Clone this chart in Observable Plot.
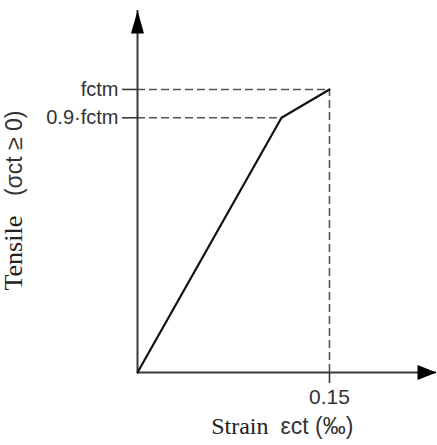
<!DOCTYPE html>
<html>
<head>
<meta charset="utf-8">
<script src="https://cdn.jsdelivr.net/npm/d3@7"></script>
<script src="https://cdn.jsdelivr.net/npm/@observablehq/plot@0.6"></script>
<style>
  html, body { margin: 0; padding: 0; background: #fff; }
</style>
</head>
<body>
<div id="chart"></div>
<script>
// Data (relative units: stress / fctm, strain in ‰)
const strain = [0, 0.1125, 0.15];
const stress = [0, 0.9, 1.0];
const xTickValues = [0.15];
const xTickLabels = ["0.15"];
const yTickValues = [0.9, 1.0];
const yTickLabels = ["0.9·fctm", "fctm"];
const xTitleWord = ["Strain"];
const xTitleSymbol = ["εct (‰)"];
const yTitleWord = ["Tensile"];
const yTitleSymbol = ["(σct ≥ 0)"];
const xMax = 0.2336;
const yMax = 1.279;

const curve = strain.map((s, i) => ({strain: s, stress: stress[i]}));
const kink = curve[1], peak = curve[2];

const upHead = {draw(ctx) { ctx.moveTo(0, 0); ctx.lineTo(-6.5, 23); ctx.lineTo(6.5, 23); ctx.closePath(); }};
const rightHead = {draw(ctx) { ctx.moveTo(0, 0); ctx.lineTo(-19, -7.5); ctx.lineTo(-19, 7.5); ctx.closePath(); }};

const axisColor = "#3a3a3a";
const dashColor = "#555";
const serif = "'Times New Roman', 'Liberation Serif', serif";
const sans = "Arial, 'Liberation Sans', sans-serif";

const chart = Plot.plot({
  width: 437,
  height: 445,
  marginLeft: 137,
  marginRight: 1,
  marginTop: 10,
  marginBottom: 73,
  style: {background: "#fff", color: "#333"},
  x: {domain: [0, xMax], axis: null},
  y: {domain: [0, yMax], axis: null},
  marks: [
    // dashed reference lines
    Plot.ruleY([peak], {y: "stress", x1: 0, x2: "strain", stroke: dashColor, strokeWidth: 1.6, strokeDasharray: "8,4"}),
    Plot.ruleY([kink], {y: "stress", x1: 0, x2: "strain", stroke: dashColor, strokeWidth: 1.6, strokeDasharray: "8,4"}),
    Plot.ruleX([peak], {x: "strain", y1: 0, y2: "stress", stroke: dashColor, strokeWidth: 1.6, strokeDasharray: "8,4"}),
    // axes lines
    Plot.ruleY([0], {x1: 0, x2: xMax, stroke: axisColor, strokeWidth: 2}),
    Plot.ruleX([0], {y1: 0, y2: yMax, stroke: axisColor, strokeWidth: 2}),
    Plot.dot([{x: 0, y: yMax}], {x: "x", y: "y", symbol: upHead, fill: "#000", stroke: "none"}),
    Plot.dot([{x: xMax, y: 0}], {x: "x", y: "y", symbol: rightHead, fill: "#000", stroke: "none"}),
    // ticks
    Plot.axisY({ticks: yTickValues, tickSize: 15, tickPadding: 4, tickFormat: (d) => yTickLabels[yTickValues.indexOf(d)], fontSize: 20, fontFamily: sans, stroke: axisColor, strokeWidth: 1.6, label: null, fill: "#333"}),
    Plot.axisX({ticks: xTickValues, tickSize: 11, tickPadding: 6, tickFormat: (d) => xTickLabels[xTickValues.indexOf(d)], fontSize: 21, fontFamily: sans, stroke: axisColor, strokeWidth: 1.6, label: null, fill: "#333"}),
    // curve
    Plot.line(curve, {x: "strain", y: "stress", stroke: "#111", strokeWidth: 2.2}),
    // axis titles
    Plot.text(xTitleWord, {text: d => d, frameAnchor: "bottom-left", textAnchor: "end", dx: 131, dy: 61, fontSize: 24, fontFamily: serif, fill: "#222"}),
    Plot.text(xTitleSymbol, {text: d => d, frameAnchor: "bottom-left", textAnchor: "start", dx: 143, dy: 61, fontSize: 23, fontFamily: sans, fill: "#333"}),
    Plot.text(yTitleWord, {text: d => d, frameAnchor: "bottom-left", textAnchor: "start", rotate: -90, dx: -116, dy: -82, fontSize: 26, fontFamily: serif, fill: "#222"}),
    Plot.text(yTitleSymbol, {text: d => d, frameAnchor: "bottom-left", textAnchor: "end", rotate: -90, dx: -116, dy: -262, fontSize: 23, fontFamily: sans, fill: "#333"})
  ]
});
document.getElementById("chart").appendChild(chart);
</script>
</body>
</html>
